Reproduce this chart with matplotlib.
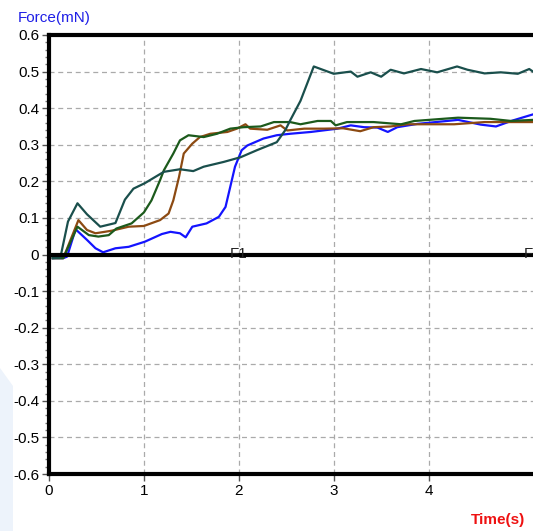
import matplotlib.pyplot as plt
from matplotlib.ticker import MultipleLocator, AutoMinorLocator
from matplotlib.patches import Polygon

plt.rcParams['font.family'] = ['Liberation Sans', 'DejaVu Sans']

# teal curve (the one that climbs to 0.5)
t_teal = [0.04, 0.12, 0.2, 0.3, 0.4, 0.54, 0.7, 0.8, 0.89, 1.01, 1.21, 1.38, 1.52, 1.63, 1.84,
          2.02, 2.19, 2.4, 2.49, 2.54, 2.65, 2.79, 3.0, 3.18, 3.25, 3.39, 3.5, 3.6, 3.74, 3.92,
          4.09, 4.3, 4.41, 4.59, 4.76, 4.94, 5.06, 5.1]
f_teal = [-0.01, -0.008, 0.09, 0.14, 0.11, 0.076, 0.086, 0.15, 0.18, 0.195, 0.226, 0.233, 0.228,
          0.24, 0.253, 0.266, 0.285, 0.307, 0.34, 0.366, 0.42, 0.514, 0.494, 0.50, 0.486, 0.498,
          0.486, 0.505, 0.495, 0.507, 0.498, 0.514, 0.505, 0.495, 0.498, 0.494, 0.507, 0.50]

t_blue = [0.04, 0.15, 0.19, 0.28, 0.4, 0.49, 0.57, 0.7, 0.84, 1.01, 1.19, 1.28, 1.38, 1.44, 1.51,
          1.66, 1.79, 1.86, 1.91, 1.96, 2.03, 2.09, 2.26, 2.4, 2.54, 2.76, 3.04, 3.18, 3.32, 3.46,
          3.57, 3.67, 3.88, 4.31, 4.55, 4.71, 4.87, 5.01, 5.1]
f_blue = [-0.01, -0.01, -0.006, 0.069, 0.04, 0.017, 0.006, 0.017, 0.021, 0.035, 0.056, 0.062,
          0.058, 0.047, 0.076, 0.085, 0.103, 0.13, 0.185, 0.24, 0.285, 0.298, 0.317, 0.326, 0.33,
          0.335, 0.344, 0.353, 0.348, 0.347, 0.335, 0.348, 0.357, 0.368, 0.355, 0.35, 0.365,
          0.376, 0.383]

t_brown = [0.04, 0.15, 0.31, 0.4, 0.49, 0.66, 0.84, 1.0, 1.17, 1.26, 1.31, 1.37, 1.42, 1.51, 1.59,
           1.7, 1.88, 1.98, 2.07, 2.12, 2.3, 2.44, 2.51, 2.69, 2.9, 3.1, 3.28, 3.42, 3.6, 3.78,
           4.06, 4.27, 4.59, 4.87, 5.1]
f_brown = [-0.01, -0.01, 0.094, 0.067, 0.058, 0.065, 0.076, 0.078, 0.094, 0.112, 0.148, 0.212,
           0.276, 0.303, 0.321, 0.33, 0.335, 0.344, 0.356, 0.344, 0.341, 0.353, 0.339, 0.344,
           0.344, 0.345, 0.337, 0.348, 0.35, 0.356, 0.356, 0.356, 0.362, 0.362, 0.362]

t_green = [0.04, 0.15, 0.3, 0.42, 0.52, 0.63, 0.71, 0.87, 1.0, 1.08, 1.17, 1.21, 1.31, 1.38, 1.47,
           1.63, 1.77, 1.91, 2.05, 2.23, 2.37, 2.54, 2.65, 2.83, 2.97, 3.02, 3.14, 3.42, 3.71,
           3.85, 4.31, 4.65, 4.87, 5.1]
f_green = [-0.01, -0.01, 0.076, 0.053, 0.049, 0.053, 0.071, 0.085, 0.115, 0.148, 0.203, 0.23,
           0.276, 0.312, 0.326, 0.321, 0.33, 0.344, 0.348, 0.35, 0.362, 0.362, 0.356, 0.365,
           0.365, 0.353, 0.362, 0.362, 0.356, 0.365, 0.374, 0.371, 0.365, 0.368]

x_ticks = [0, 1, 2, 3, 4]
y_ticks = [-0.6, -0.5, -0.4, -0.3, -0.2, -0.1, 0, 0.1, 0.2, 0.3, 0.4, 0.5, 0.6]
markers = [(2.0, "F1"), (5.05, "F")]

fig = plt.figure(figsize=(5.33, 5.31), dpi=100)
fig.patches.append(Polygon([(0, 0), (13 / 533, 0), (13 / 533, 1 - 386 / 531), (0, 1 - 368 / 531)],
                           closed=True, transform=fig.transFigure, facecolor='#edf3fb',
                           edgecolor='none', zorder=0))
ax = fig.add_axes([49 / 533, 1 - 474 / 531, 1 - 49 / 533, 439 / 531])

ax.plot(t_blue, f_blue, color='#1414ff', lw=1.6, zorder=3)
ax.plot(t_brown, f_brown, color='#8c4a12', lw=1.6, zorder=3)
ax.plot(t_green, f_green, color='#1c5a1c', lw=1.6, zorder=3)
ax.plot(t_teal, f_teal, color='#1a4f4c', lw=1.6, zorder=3)

ax.axhline(0, color='black', lw=3, zorder=4)
for xm, lab in markers:
    ax.text(xm, 0, lab, ha='center', va='center', fontsize=11, color='#222222', zorder=5)

ax.set_xlim(0, 5.1)
ax.set_ylim(-0.6, 0.6)
ax.set_xticks(x_ticks)
ax.set_yticks(y_ticks)
ax.set_yticklabels(['-0.6', '-0.5', '-0.4', '-0.3', '-0.2', '-0.1', '0',
                    '0.1', '0.2', '0.3', '0.4', '0.5', '0.6'])
ax.yaxis.set_minor_locator(AutoMinorLocator(5))
ax.tick_params(axis='both', which='major', labelsize=11, length=5, width=1, color='#555555', pad=2)
ax.tick_params(axis='y', which='minor', length=3, width=1, color='#777777')
ax.grid(True, which='major', color='#aaaaaa', linestyle=(0, (4, 3)), lw=0.9)

for s in ['left', 'bottom', 'top']:
    ax.spines[s].set_linewidth(3)
    ax.spines[s].set_color('black')
ax.spines['right'].set_visible(False)

fig.text(18 / 533, 1 - 18 / 531, "Force(mN)", color='#1f1fe6', fontsize=11, va='center', ha='left')
fig.text(525 / 533, 1 - 520 / 531, "Time(s)", color='#ee1111', fontsize=11, fontweight='bold',
         va='center', ha='right')

fig.savefig('out.png', dpi=100)
